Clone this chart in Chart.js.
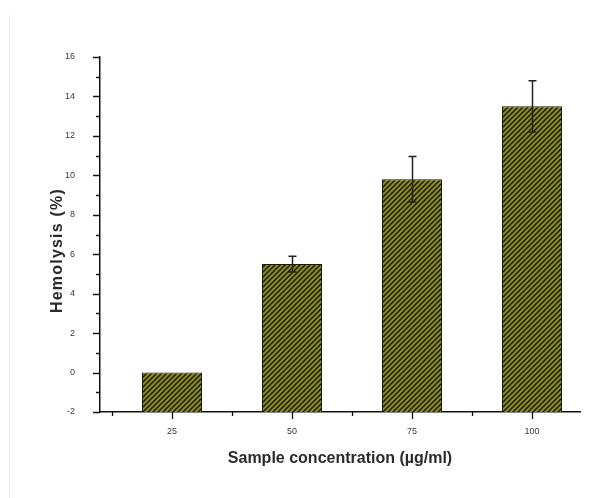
<script src="https://cdn.jsdelivr.net/npm/chart.js@4"></script>

<div id="wrap">
    <div id="edge"></div>
    <canvas id="myChart" width="605" height="498"></canvas>
</div>

<style>
    body { margin: 0; background: #fff; }
    #wrap { position: relative; width: 605px; height: 498px; }
    #edge { position: absolute; left: 9px; top: 15px; bottom: 0; border-left: 1px solid #ececec; }
    #myChart { position: absolute; left: 0; top: 0; }
</style>

<script>
// values
const concentrations = [25, 50, 75, 100];
const tickLabels = ['25', '50', '75', '100'];
const hemolysis = [0, 5.5, 9.8, 13.5];
const errors = [0, 0.4, 1.15, 1.3];
const minorX = [12.5, 37.5, 62.5, 87.5];

// olive fill with black "////" hatching
function hatch() {
    const c = document.createElement('canvas');
    c.width = 5; c.height = 5;
    const g = c.getContext('2d');
    g.fillStyle = '#8a8a24';
    g.fillRect(0, 0, 5, 5);
    g.strokeStyle = '#151505';
    g.lineWidth = 1.3;
    g.beginPath();
    g.moveTo(-1, 6); g.lineTo(6, -1);
    g.moveTo(-1, 1); g.lineTo(1, -1);
    g.moveTo(4, 6); g.lineTo(6, 4);
    g.stroke();
    return g.createPattern(c, 'repeat');
}

const extras = {
    id: 'extras',
    afterDraw: chart => {
        const ctx = chart.ctx;
        const x = chart.scales.x, y = chart.scales.y;
        ctx.save();
        ctx.strokeStyle = '#111';
        ctx.lineWidth = 1.3;
        ctx.beginPath();
        // y ticks, major every 2, minor in between
        for (let v = -2; v <= 16; v++) {
            const py = Math.round(y.getPixelForValue(v)) + 0.5;
            const len = v % 2 === 0 ? 7 : 4;
            ctx.moveTo(x.left - len, py);
            ctx.lineTo(x.left, py);
        }
        // x ticks
        concentrations.forEach(v => {
            const px = Math.round(x.getPixelForValue(v)) + 0.5;
            ctx.moveTo(px, y.bottom);
            ctx.lineTo(px, y.bottom + 7);
        });
        minorX.forEach(v => {
            const px = Math.round(x.getPixelForValue(v)) + 0.5;
            ctx.moveTo(px, y.bottom);
            ctx.lineTo(px, y.bottom + 4);
        });
        ctx.stroke();

        // error bars
        ctx.strokeStyle = '#222';
        ctx.lineWidth = 1.5;
        ctx.beginPath();
        concentrations.forEach((c, i) => {
            if (!errors[i]) return;
            const px = Math.round(x.getPixelForValue(c)) + 0.5;
            const top = y.getPixelForValue(hemolysis[i] + errors[i]);
            const bot = y.getPixelForValue(hemolysis[i] - errors[i]);
            ctx.moveTo(px, top); ctx.lineTo(px, bot);
            ctx.moveTo(px - 4, top); ctx.lineTo(px + 4, top);
            ctx.moveTo(px - 4, bot); ctx.lineTo(px + 4, bot);
        });
        ctx.stroke();

        // y axis title
        ctx.translate(58, (chart.chartArea.top + chart.chartArea.bottom) / 2 + 16);
        ctx.rotate(-Math.PI / 2);
        ctx.fillStyle = '#2a2a2a';
        ctx.font = 'bold 16px "Liberation Sans", Arial, sans-serif';
        ctx.letterSpacing = '1.2px';
        ctx.textAlign = 'center';
        ctx.textBaseline = 'middle';
        ctx.fillText('Hemolysis (%)', 0, 0);
        ctx.restore();
    }
};

const ctx = document.getElementById('myChart').getContext('2d');
const myChart = new Chart(ctx, {
    type: 'bar',
    data: {
        datasets: [{
            data: concentrations.map((c, i) => ({x: c, y: hemolysis[i]})),
            base: -2,
            backgroundColor: hatch(),
            borderColor: '#1a1a1a',
            borderWidth: 1,
            barPercentage: 0.5,
            categoryPercentage: 1
        }]
    },
    options: {
        responsive: false,
        animation: false,
        devicePixelRatio: 1,
        layout: {padding: {left: 0, top: 57, right: 25, bottom: 0}},
        plugins: {legend: {display: false}, tooltip: {enabled: false}},
        scales: {
            x: {
                type: 'linear',
                offset: false,
                min: 10,
                max: 110,
                grid: {display: false},
                border: {display: true, color: '#111', width: 1.5},
                afterBuildTicks: s => { s.ticks = concentrations.map(v => ({value: v})); },
                afterFit: s => { s.height = 86; },
                ticks: {
                    padding: 6,
                    color: '#3a3a3a',
                    font: {family: '"Liberation Sans", Arial, sans-serif', size: 9},
                    callback: (v) => tickLabels[concentrations.indexOf(v)]
                },
                title: {
                    display: true,
                    text: 'Sample concentration (\u00b5g/ml)',
                    color: '#2a2a2a',
                    font: {family: '"Liberation Sans", Arial, sans-serif', size: 16, weight: 'bold'},
                    padding: {top: 0, bottom: 30}
                }
            },
            y: {
                min: -2,
                max: 16,
                grid: {display: false},
                border: {display: true, color: '#111', width: 1.5},
                afterFit: s => { s.width = 100; },
                ticks: {
                    stepSize: 2,
                    padding: 17,
                    color: '#3a3a3a',
                    font: {family: '"Liberation Sans", Arial, sans-serif', size: 9}
                }
            }
        }
    },
    plugins: [extras]
});
</script>
